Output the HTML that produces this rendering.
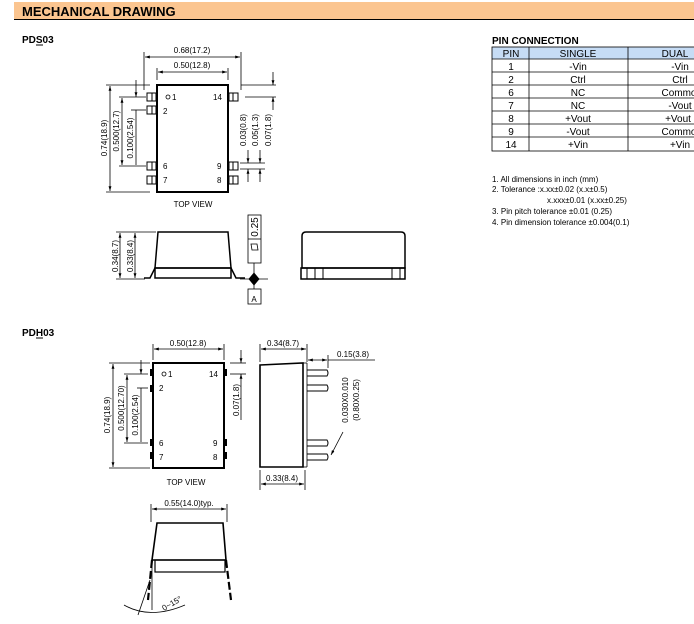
<!DOCTYPE html>
<html><head><style>
body{margin:0;background:#fff;}
svg{display:block;font-family:"Liberation Sans",sans-serif;}
.t{font-size:8px;fill:#000}
</style></head><body>
<svg width="694" height="624" viewBox="0 0 694 624" xmlns="http://www.w3.org/2000/svg">
<defs>
<marker id="a" viewBox="0 0 10 10" refX="10" refY="5" markerWidth="6" markerHeight="6" orient="auto-start-reverse"><path d="M0,2 L10,5 L0,8z" fill="#000"/></marker>
</defs>
<rect x="14" y="2" width="680" height="17" fill="#fbc590"/>
<line x1="14" y1="19.5" x2="694" y2="19.5" stroke="#000" stroke-width="1"/>
<text x="22" y="16" font-size="13" font-weight="bold">MECHANICAL DRAWING</text>
<text x="22" y="43" font-size="10" font-weight="bold">PDS03</text>
<line x1="36" y1="45" x2="43" y2="45" stroke="#000"/>
<text x="22" y="336" font-size="10" font-weight="bold">PDH03</text>
<line x1="36" y1="338" x2="43" y2="338" stroke="#000"/>

<g stroke="#000" fill="none" stroke-width="0.8">
<rect x="157" y="85" width="71" height="107" stroke-width="2"/>
<circle cx="168" cy="97" r="2"/>
<g stroke-width="1">
<rect x="147" y="93" width="9" height="8"/><line x1="152" y1="93" x2="152" y2="101"/>
<rect x="147" y="106" width="9" height="8"/><line x1="152" y1="106" x2="152" y2="114"/>
<rect x="147" y="162" width="9" height="8"/><line x1="152" y1="162" x2="152" y2="170"/>
<rect x="147" y="176" width="9" height="8"/><line x1="152" y1="176" x2="152" y2="184"/>
<rect x="229" y="93" width="9" height="8"/><line x1="233" y1="93" x2="233" y2="101"/>
<rect x="229" y="162" width="9" height="8"/><line x1="233" y1="162" x2="233" y2="170"/>
<rect x="229" y="176" width="9" height="8"/><line x1="233" y1="176" x2="233" y2="184"/>
</g>
<line x1="144" y1="52" x2="144" y2="90"/><line x1="241" y1="52" x2="241" y2="90"/>
<line x1="145" y1="57" x2="240" y2="57" marker-start="url(#a)" marker-end="url(#a)"/>
<line x1="157" y1="68" x2="157" y2="80"/><line x1="228" y1="68" x2="228" y2="80"/>
<line x1="158" y1="72" x2="227" y2="72" marker-start="url(#a)" marker-end="url(#a)"/>
<line x1="106" y1="85" x2="150" y2="85"/><line x1="106" y1="192" x2="150" y2="192"/>
<line x1="110" y1="86" x2="110" y2="191" marker-start="url(#a)" marker-end="url(#a)"/>
<line x1="119" y1="97" x2="146" y2="97"/><line x1="119" y1="166" x2="146" y2="166"/>
<line x1="122" y1="98" x2="122" y2="165" marker-start="url(#a)" marker-end="url(#a)"/>
<line x1="131" y1="110" x2="146" y2="110"/>
<line x1="136" y1="80" x2="136" y2="97" marker-end="url(#a)"/><line x1="136" y1="110" x2="136" y2="165" />
<line x1="245" y1="97" x2="276" y2="97"/><line x1="273" y1="72" x2="273" y2="85" marker-end="url(#a)"/><line x1="241" y1="85" x2="276" y2="85"/>
<line x1="273" y1="97" x2="273" y2="110" marker-start="url(#a)"/>
<line x1="240" y1="163" x2="265" y2="163"/><line x1="240" y1="169" x2="265" y2="169"/>
<line x1="248" y1="150" x2="248" y2="163" marker-end="url(#a)"/><line x1="248" y1="169" x2="248" y2="182" marker-start="url(#a)"/>
<line x1="260" y1="150" x2="260" y2="163" marker-end="url(#a)"/><line x1="260" y1="169" x2="260" y2="182" marker-start="url(#a)"/>
<path d="M158,232 L228,232 L231,268 L155,268 Z" stroke-width="1.5"/>
<rect x="155" y="268" width="76" height="10" stroke-width="1.5"/>
<path d="M155,268 L150,278 L144,278 M231,268 L236,278 L245,278" stroke-width="1.5"/>
<line x1="116" y1="232" x2="156" y2="232"/><line x1="116" y1="279" x2="145" y2="279"/>
<line x1="120" y1="233" x2="120" y2="278" marker-start="url(#a)" marker-end="url(#a)"/>
<line x1="135" y1="233" x2="135" y2="278" marker-start="url(#a)" marker-end="url(#a)"/>
<line x1="240" y1="279" x2="268" y2="279"/>
<rect x="248" y="215" width="13" height="48"/><line x1="248" y1="239" x2="261" y2="239"/>
<path d="M252,250 L258,250 L257,244 L251,244 Z"/>
<line x1="254" y1="263" x2="254" y2="289"/>
<rect x="248" y="289" width="13" height="15"/>
<path d="M254,273 L259,279 L254,285 L249,279 Z" fill="#000"/>
<path d="M302,268 L302,236 Q302,232 306,232 L401,232 Q405,232 405,236 L405,268 Z" stroke-width="1.5"/>
<rect x="301" y="268" width="104" height="11" stroke-width="1.5"/>
<path d="M307,268 V279 M315,268 V279 M323,268 V279 M392,268 V279 M400,268 V279" stroke-width="1"/>
</g>
<g font-size="10" text-anchor="middle">
<rect x="492" y="47" width="202" height="12" fill="#c6dcf5"/>
<g stroke="#000" stroke-width="0.8" fill="none">
<rect x="492" y="47" width="210" height="104"/>
<line x1="529" y1="47" x2="529" y2="151"/><line x1="628" y1="47" x2="628" y2="151"/>
<line x1="492" y1="59" x2="694" y2="59"/><line x1="492" y1="72" x2="694" y2="72"/><line x1="492" y1="85" x2="694" y2="85"/><line x1="492" y1="98" x2="694" y2="98"/><line x1="492" y1="111" x2="694" y2="111"/><line x1="492" y1="124" x2="694" y2="124"/><line x1="492" y1="137" x2="694" y2="137"/>
</g>
<text x="492" y="44" text-anchor="start" font-weight="bold">PIN CONNECTION</text>
<text x="511" y="57">PIN</text><text x="578" y="57">SINGLE</text><text x="675" y="57">DUAL</text>
<text x="511" y="70">1</text><text x="578" y="70">-Vin</text><text x="680" y="70">-Vin</text>
<text x="511" y="83">2</text><text x="578" y="83">Ctrl</text><text x="680" y="83">Ctrl</text>
<text x="511" y="96">6</text><text x="578" y="96">NC</text><text x="679" y="96">Commo</text>
<text x="511" y="109">7</text><text x="578" y="109">NC</text><text x="680" y="109">-Vout</text>
<text x="511" y="122">8</text><text x="578" y="122">+Vout</text><text x="678" y="122">+Vout</text>
<text x="511" y="135">9</text><text x="578" y="135">-Vout</text><text x="679" y="135">Commo</text>
<text x="511" y="148">14</text><text x="578" y="148">+Vin</text><text x="680" y="148">+Vin</text>
</g>
<g font-size="8">
<text x="492" y="182">1. All dimensions in inch (mm)</text>
<text x="492" y="192">2. Tolerance :x.xx±0.02 (x.x±0.5)</text>
<text x="547" y="203">x.xxx±0.01 (x.xx±0.25)</text>
<text x="492" y="214">3. Pin pitch tolerance ±0.01 (0.25)</text>
<text x="492" y="225">4. Pin dimension tolerance ±0.004(0.1)</text>
</g>
<g class="t">
<text x="192" y="53" text-anchor="middle">0.68(17.2)</text>
<text x="192" y="68" text-anchor="middle">0.50(12.8)</text>
<text x="172" y="100">1</text><text x="163" y="114">2</text><text x="163" y="169">6</text><text x="163" y="183">7</text>
<text x="213" y="100">14</text><text x="217" y="169">9</text><text x="217" y="183">8</text>
<text x="193" y="207" text-anchor="middle">TOP  VIEW</text>
<text transform="translate(107,138) rotate(-90)" text-anchor="middle">0.74(18.9)</text>
<text transform="translate(119,131) rotate(-90)" text-anchor="middle">0.500(12.7)</text>
<text transform="translate(133,138) rotate(-90)" text-anchor="middle">0.100(2.54)</text>
<text transform="translate(246,130) rotate(-90)" text-anchor="middle">0.03(0.8)</text>
<text transform="translate(258,130) rotate(-90)" text-anchor="middle">0.05(1.3)</text>
<text transform="translate(271,130) rotate(-90)" text-anchor="middle">0.07(1.8)</text>
<text transform="translate(118,256) rotate(-90)" text-anchor="middle">0.34(8.7)</text>
<text transform="translate(133,256) rotate(-90)" text-anchor="middle">0.33(8.4)</text>
<text transform="translate(258,227) rotate(-90)" text-anchor="middle" font-size="10">0.25</text>
<text x="254" y="302" text-anchor="middle">A</text>
</g>

<g stroke="#000" fill="none" stroke-width="0.8">
<rect x="153" y="363" width="71" height="105" stroke-width="2"/>
<circle cx="164" cy="374" r="2"/>
<g fill="#000" stroke="none">
<rect x="150" y="369" width="3" height="7"/><rect x="150" y="385" width="3" height="7"/><rect x="150" y="439" width="3" height="7"/><rect x="150" y="452" width="3" height="7"/>
<rect x="224" y="369" width="3" height="7"/><rect x="224" y="439" width="3" height="7"/><rect x="224" y="452" width="3" height="7"/>
</g>
<line x1="153" y1="344" x2="153" y2="360"/><line x1="224" y1="344" x2="224" y2="360"/>
<line x1="154" y1="349" x2="223" y2="349" marker-start="url(#a)" marker-end="url(#a)"/>
<line x1="109" y1="363" x2="150" y2="363"/><line x1="109" y1="468" x2="150" y2="468"/>
<line x1="113" y1="364" x2="113" y2="467" marker-start="url(#a)" marker-end="url(#a)"/>
<line x1="124" y1="374" x2="148" y2="374"/><line x1="124" y1="443" x2="148" y2="443"/>
<line x1="127" y1="375" x2="127" y2="442" marker-start="url(#a)" marker-end="url(#a)"/>
<line x1="137" y1="388" x2="148" y2="388"/>
<line x1="141" y1="360" x2="141" y2="374" marker-end="url(#a)"/><line x1="141" y1="388" x2="141" y2="442"/>
<line x1="230" y1="363" x2="246" y2="363"/><line x1="230" y1="374" x2="246" y2="374"/>
<line x1="241" y1="350" x2="241" y2="363" marker-end="url(#a)"/><line x1="241" y1="374" x2="241" y2="420" marker-start="url(#a)"/>
<path d="M260,365 L303,363 L303,467 L260,467 Z" stroke-width="1.6"/>
<line x1="303" y1="363" x2="307" y2="363"/><line x1="307" y1="363" x2="307" y2="467"/><line x1="303" y1="467" x2="307" y2="467"/>
<g stroke-width="1">
<path d="M307,370 H327 Q329,373 327,376 H307"/><path d="M307,385 H327 Q329,388 327,391 H307"/>
<path d="M307,440 H327 Q329,443 327,446 H307"/><path d="M307,454 H327 Q329,457 327,460 H307"/>
</g>
<line x1="260" y1="344" x2="260" y2="362"/><line x1="307" y1="344" x2="307" y2="362"/>
<line x1="261" y1="349" x2="306" y2="349" marker-start="url(#a)" marker-end="url(#a)"/>
<line x1="328" y1="355" x2="328" y2="368"/>
<line x1="308" y1="360" x2="327" y2="360" marker-start="url(#a)" marker-end="url(#a)"/>
<line x1="328" y1="360" x2="375" y2="360"/>
<line x1="331" y1="455" x2="343" y2="432" marker-start="url(#a)"/>
<line x1="260" y1="470" x2="260" y2="490"/><line x1="305" y1="470" x2="305" y2="490"/>
<line x1="261" y1="484" x2="304" y2="484" marker-start="url(#a)" marker-end="url(#a)"/>
<line x1="151" y1="504" x2="151" y2="522"/><line x1="227" y1="504" x2="227" y2="522"/>
<line x1="152" y1="509" x2="226" y2="509" marker-start="url(#a)" marker-end="url(#a)"/>
<path d="M157,523 L223,523 L226,560 L152,560 Z" stroke-width="1.6"/>
<rect x="155" y="560" width="70" height="12" stroke-width="1.2"/>
<path d="M152,560 L148,600 M226,560 L231,600" stroke-width="2.2" stroke-dasharray="8,3"/>
<path d="M152,560 L152,610" stroke-width="0.8"/>
<path d="M124,605 Q150,620 185,605" stroke-width="0.8"/>
<line x1="150" y1="580" x2="138" y2="615" stroke-width="0.8"/>
</g>
<g class="t">
<text x="188" y="346" text-anchor="middle">0.50(12.8)</text>
<text x="168" y="377">1</text><text x="159" y="391">2</text><text x="159" y="446">6</text><text x="159" y="460">7</text>
<text x="209" y="377">14</text><text x="213" y="446">9</text><text x="213" y="460">8</text>
<text x="186" y="485" text-anchor="middle">TOP  VIEW</text>
<text transform="translate(110,415) rotate(-90)" text-anchor="middle">0.74(18.9)</text>
<text transform="translate(124,408) rotate(-90)" text-anchor="middle">0.500(12.70)</text>
<text transform="translate(138,415) rotate(-90)" text-anchor="middle">0.100(2.54)</text>
<text transform="translate(239,400) rotate(-90)" text-anchor="middle">0.07(1.8)</text>
<text x="283" y="346" text-anchor="middle">0.34(8.7)</text>
<text x="337" y="357">0.15(3.8)</text>
<text transform="translate(348,400) rotate(-90)" text-anchor="middle">0.030X0.010</text>
<text transform="translate(359,400) rotate(-90)" text-anchor="middle">(0.80X0.25)</text>
<text x="282" y="481" text-anchor="middle">0.33(8.4)</text>
<text x="189" y="506" text-anchor="middle">0.55(14.0)typ.</text>
<text transform="translate(164,611) rotate(-30)">0~15°</text>
</g>
</svg>
</body></html>
